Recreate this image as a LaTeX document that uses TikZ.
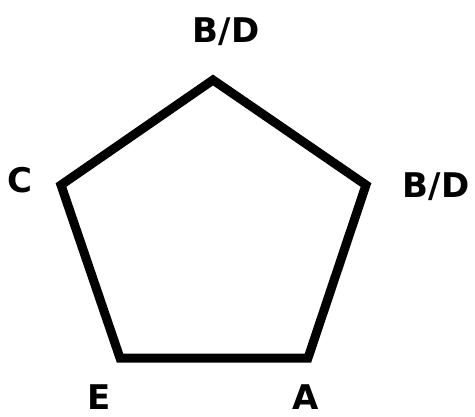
\documentclass[tikz,border=0pt]{standalone}
\usepackage{fontspec}
\setmainfont{DejaVu Sans}
\begin{document}
\begin{tikzpicture}[x=1pt,y=-1pt,
  edge/.style={line width=9pt,line join=miter,black},
  lbl/.style={font=\bfseries\fontsize{34}{38}\selectfont,anchor=base,inner sep=0pt},
  lowlbl/.style={lbl,text depth=0pt}]
\useasboundingbox (0,0) rectangle (475,416);
\coordinate (T) at (213,80);
\coordinate (R) at (366,185);
\coordinate (A) at (308,358);
\coordinate (E) at (120,358);
\coordinate (L) at (61,185);
\draw[edge] (T) -- (R) -- (A) -- (E) -- (L) -- cycle;
\node[lbl] (lt) at (226,42) {B/D};
\node[lbl] (lr) at (436,197) {B/D};
\node[lbl] (lc) at (20,192) {C};
\node[lowlbl] (le) at (99,409) {E};
\node[lowlbl] (la) at (306,409) {A};
\end{tikzpicture}
\end{document}
